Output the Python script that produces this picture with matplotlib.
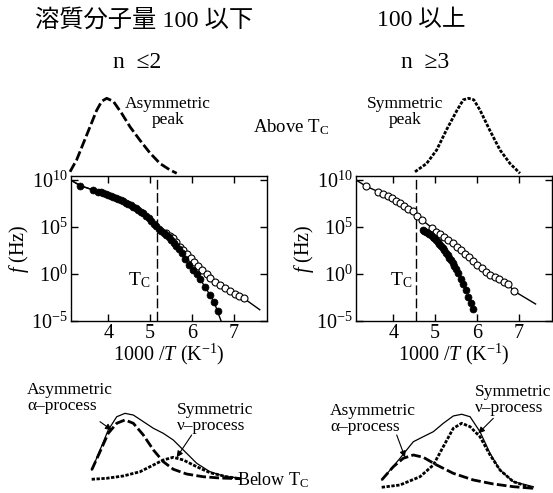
import matplotlib
matplotlib.use('Agg')
import matplotlib.pyplot as plt
from matplotlib.ticker import NullLocator, FixedLocator

plt.rcParams['font.family'] = ['Liberation Serif', 'DejaVu Serif', 'Noto Sans CJK JP']
plt.rcParams['mathtext.fontset'] = 'custom'
plt.rcParams['mathtext.rm'] = 'Liberation Serif'
plt.rcParams['mathtext.it'] = 'Liberation Serif:italic'
plt.rcParams['mathtext.bf'] = 'Liberation Serif:bold'

# ---------------- data (log10 f versus 1000/T) ----------------
# left panel (n <= 2)
left_filled_x = [3.33, 3.64, 3.76, 3.82, 3.88, 3.94, 4.00, 4.06, 4.12, 4.18, 4.24, 4.30,
                 4.36, 4.42, 4.48, 4.54, 4.60, 4.66, 4.72, 4.78, 4.84, 4.90, 4.96, 5.02,
                 5.08, 5.14, 5.20, 5.26, 5.32, 5.38, 5.44, 5.50, 5.56, 5.62, 5.68, 5.75,
                 5.83, 5.93, 6.03, 6.12, 6.20, 6.31, 6.43, 6.53, 6.63]
left_filled_y = [9.36, 8.94, 8.76, 8.68, 8.59, 8.50, 8.41, 8.31, 8.22, 8.12, 8.01, 7.88,
                 7.74, 7.60, 7.45, 7.30, 7.15, 6.98, 6.81, 6.64, 6.46, 6.21, 5.94, 5.66,
                 5.37, 5.08, 4.83, 4.61, 4.40, 4.18, 3.93, 3.64, 3.33, 3.00, 2.64, 2.20,
                 1.65, 0.95, 0.45, -0.05, -0.55, -1.35, -2.23, -3.00, -3.94]
left_open_x = [5.38, 5.47, 5.54, 5.62, 5.71, 5.79, 5.89, 5.97, 6.05, 6.15, 6.25, 6.35,
               6.44, 6.55, 6.67, 6.79, 6.90, 7.02, 7.13, 7.24]
left_open_y = [4.33, 4.07, 3.80, 3.37, 2.90, 2.55, 2.10, 1.73, 1.31, 0.88, 0.43, -0.03,
               -0.46, -0.82, -1.17, -1.52, -1.81, -2.16, -2.31, -2.59]
left_fitA_x = [3.10, 3.33, 3.64, 4.00, 4.30, 4.60, 4.84, 5.02, 5.20, 5.38, 5.56, 5.75,
               5.93, 6.12, 6.31, 6.53, 6.72]
left_fitA_y = [10.0, 9.40, 8.94, 8.41, 7.88, 7.15, 6.46, 5.66, 4.83, 4.18, 3.33, 2.20,
               0.95, -0.05, -1.35, -3.00, -5.30]
left_fitB_x = [3.10, 3.33, 3.64, 4.00, 4.30, 4.60, 4.84, 5.02, 5.20, 5.38, 5.54, 5.71,
               5.89, 6.05, 6.25, 6.44, 6.67, 6.90, 7.13, 7.24, 7.62]
left_fitB_y = [10.0, 9.40, 8.94, 8.41, 7.88, 7.15, 6.46, 5.66, 4.83, 4.33, 3.80, 2.90,
               2.10, 1.31, 0.43, -0.46, -1.17, -1.81, -2.31, -2.59, -3.80]
left_Tc = 5.155

# right panel (n >= 3)
right_open_x = [3.34, 3.64, 3.76, 3.87, 3.96, 4.06, 4.16, 4.26, 4.36, 4.46, 4.57, 4.68,
                4.92, 5.02, 5.11, 5.21, 5.31, 5.42, 5.51, 5.61, 5.71, 5.81, 5.91, 6.00,
                6.11, 6.21, 6.32, 6.43, 6.53, 6.64, 6.74, 6.88]
right_open_y = [9.36, 8.76, 8.51, 8.30, 8.05, 7.80, 7.52, 7.23, 6.97, 6.66, 6.22, 5.78,
                4.92, 4.52, 4.22, 3.92, 3.60, 3.25, 2.91, 2.55, 2.15, 1.76, 1.35, 0.98,
                0.60, 0.26, -0.08, -0.35, -0.58, -0.82, -1.06, -1.80]
right_filled_x = [4.70, 4.74, 4.78, 4.82, 4.86, 4.90, 4.94, 4.98, 5.02, 5.06, 5.10, 5.14,
                  5.18, 5.22, 5.26, 5.30, 5.34, 5.38, 5.42, 5.46, 5.50, 5.55, 5.61, 5.67,
                  5.73, 5.79, 5.85, 5.91]
right_filled_y = [4.70, 4.60, 4.49, 4.38, 4.26, 4.12, 3.97, 3.80, 3.62, 3.42, 3.21, 2.99,
                  2.76, 2.52, 2.27, 2.01, 1.74, 1.46, 1.17, 0.87, 0.55, 0.10, -0.50, -1.10,
                  -1.75, -2.40, -3.05, -3.72]
right_fit_x = [3.11] + right_open_x + [7.40]
right_fit_y = [10.0] + right_open_y + [-3.19]
right_Tc = 4.54

x_ticks = [4, 5, 6, 7]
y_ticks = [1e-5, 1e0, 1e5, 1e10]

# schematic loss peaks (normalised log-frequency, normalised loss)
above_asym_x = [0.0, 0.0625, 0.125, 0.1875, 0.25, 0.297, 0.344, 0.406, 0.484, 0.5625,
                0.656, 0.75, 0.844, 0.9375, 1.0]
above_asym_y = [0.02, 0.18, 0.40, 0.62, 0.84, 0.96, 1.0, 0.96, 0.80, 0.62,
                0.44, 0.27, 0.13, 0.044, 0.0]
above_sym_x = [0.0, 0.11, 0.206, 0.30, 0.40, 0.46, 0.51, 0.56, 0.62, 0.71, 0.81, 0.905, 1.0]
above_sym_y = [0.02, 0.13, 0.31, 0.58, 0.84, 0.98, 1.0, 0.98, 0.84, 0.58, 0.31, 0.13, 0.0]

bl_sum_x = [0.011, 0.066, 0.120, 0.176, 0.230, 0.285, 0.351, 0.417, 0.482, 0.548, 0.614,
            0.702, 0.789, 0.877, 0.987]
bl_sum_y = [0.235, 0.471, 0.706, 0.862, 0.902, 0.882, 0.804, 0.726, 0.667, 0.588, 0.471,
            0.314, 0.215, 0.165, 0.138]
bl_alpha_x = [0.011, 0.066, 0.120, 0.176, 0.230, 0.285, 0.351, 0.417, 0.482, 0.548, 0.636,
              0.745, 0.855, 0.987]
bl_alpha_y = [0.235, 0.451, 0.667, 0.785, 0.824, 0.785, 0.647, 0.471, 0.333, 0.244, 0.188,
              0.156, 0.141, 0.133]
bl_nu_x = [0.011, 0.110, 0.219, 0.329, 0.417, 0.482, 0.548, 0.614, 0.702, 0.789, 0.899, 0.987]
bl_nu_y = [0.126, 0.138, 0.165, 0.215, 0.294, 0.353, 0.385, 0.353, 0.274, 0.204, 0.156, 0.133]

br_sum_x = [0.011, 0.065, 0.129, 0.172, 0.215, 0.279, 0.344, 0.408, 0.473, 0.527, 0.581,
            0.645, 0.710, 0.774, 0.860, 0.989]
br_sum_y = [0.118, 0.235, 0.373, 0.471, 0.568, 0.627, 0.686, 0.784, 0.871, 0.891, 0.862,
            0.686, 0.432, 0.235, 0.098, 0.039]
br_alpha_x = [0.011, 0.086, 0.150, 0.215, 0.279, 0.366, 0.473, 0.602, 0.731, 0.860, 0.989]
br_alpha_y = [0.118, 0.274, 0.373, 0.412, 0.385, 0.294, 0.196, 0.118, 0.071, 0.039, 0.020]
br_nu_x = [0.011, 0.129, 0.258, 0.344, 0.408, 0.473, 0.527, 0.581, 0.645, 0.710, 0.774,
           0.860, 0.989]
br_nu_y = [0.032, 0.059, 0.156, 0.294, 0.509, 0.726, 0.785, 0.745, 0.627, 0.412, 0.235,
           0.098, 0.020]

# ---------------- figure ----------------
W, H = 553, 493
fig = plt.figure(figsize=(W / 100, H / 100), dpi=100)


def rect(x0, y0, x1, y1):
    return [x0 / W, 1 - y1 / H, (x1 - x0) / W, (y1 - y0) / H]


def fp(x, y):
    return (x / W, 1 - y / H)


TICKFS = 14.5


def main_panel(r, fx, fy, ox, oy, fits, Tc, tclabel_x):
    ax = fig.add_axes(r)
    ax.set_yscale('log')
    for (lx, ly) in fits:
        ax.plot(lx, [10 ** v for v in ly], color='k', lw=1.0, zorder=2)
    ax.plot(ox, [10 ** v for v in oy], 'o', ms=5, mfc='white', mec='k', mew=0.8, zorder=3)
    ax.plot(fx, [10 ** v for v in fy], 'o', ms=5, mfc='k', mec='k', mew=0.5, zorder=4)
    ax.axvline(Tc, color='k', lw=1.0, dashes=(7, 2.5), zorder=1)
    ax.text(tclabel_x, 10 ** -0.65, r'T$_\mathrm{C}$', fontsize=14, ha='right', va='center')
    ax.set_xlim(3.1, 7.8)
    ax.set_ylim(1e-5, 10 ** 10.43)
    ax.xaxis.set_major_locator(FixedLocator(x_ticks))
    ax.yaxis.set_major_locator(FixedLocator(y_ticks))
    ax.xaxis.set_minor_locator(NullLocator())
    ax.yaxis.set_minor_locator(NullLocator())
    ax.tick_params(direction='in', top=True, right=True, length=5, width=1.0,
                   labelsize=TICKFS, pad=2)
    for s in ax.spines.values():
        s.set_linewidth(1.0)
    ax.set_xlabel(r'1000 /$T$ (K$^{-1}$)', fontsize=TICKFS, labelpad=-1)
    ax.set_ylabel(r'$f$ (Hz)', fontsize=TICKFS, labelpad=0)
    return ax


main_panel(rect(70.7, 176, 267.3, 321), left_filled_x, left_filled_y, left_open_x,
           left_open_y, [(left_fitA_x, left_fitA_y), (left_fitB_x, left_fitB_y)],
           left_Tc, 5.0)
main_panel(rect(355.7, 176, 552.3, 321), right_filled_x, right_filled_y, right_open_x,
           right_open_y, [(right_fit_x, right_fit_y)], right_Tc, 4.45)

LONG = (3.5, 1.2)
SHORT = (1.2, 0.55)


def schematic(r, curves):
    ax = fig.add_axes(r)
    ax.set_xlim(0, 1)
    ax.set_ylim(0, 1)
    ax.axis('off')
    for (cx, cy, style) in curves:
        if style == 'sum':
            ax.plot(cx, cy, color='k', lw=0.9, clip_on=False)
        elif style == 'long':
            ax.plot(cx, cy, color='k', lw=2.0, dashes=LONG, clip_on=False)
        else:
            ax.plot(cx, cy, color='k', lw=2.0, dashes=SHORT, clip_on=False)
    return ax


schematic(rect(70, 98.3, 176.7, 173.3), [(above_asym_x, above_asym_y, 'long')])
schematic(rect(415, 98.3, 520, 173.3), [(above_sym_x, above_sym_y, 'short')])
schematic(rect(90, 405, 242, 490), [(bl_sum_x, bl_sum_y, 'sum'),
                                     (bl_alpha_x, bl_alpha_y, 'long'),
                                     (bl_nu_x, bl_nu_y, 'short')])
schematic(rect(380, 405, 535, 490), [(br_sum_x, br_sum_y, 'sum'),
                                      (br_alpha_x, br_alpha_y, 'long'),
                                      (br_nu_x, br_nu_y, 'short')])

# ---------------- texts ----------------
fig.text(*fp(144.5, 20), '溶質分子量 100 以下', fontsize=17.5, ha='center', va='center')
fig.text(*fp(421, 20), '100 以上', fontsize=17, ha='center', va='center')
fig.text(*fp(136.7, 62), 'n  ≤2', fontsize=17, ha='center', va='center')
fig.text(*fp(425, 62), 'n  ≥3', fontsize=17, ha='center', va='center')

LF = 12.5
fig.text(*fp(168, 112), 'Asymmetric\npeak', fontsize=LF, ha='center', va='center',
         linespacing=0.95)
fig.text(*fp(405, 112), 'Symmetric\npeak', fontsize=LF, ha='center', va='center',
         linespacing=0.95)
fig.text(*fp(291, 127), r'Above T$_\mathrm{C}$', fontsize=13.5, ha='center', va='center')
fig.text(*fp(273, 480), r'Below T$_\mathrm{C}$', fontsize=13, ha='center', va='center')

fig.text(*fp(27, 398), 'Asymmetric\nα–process', fontsize=LF, ha='left', va='center',
         linespacing=0.95)
fig.text(*fp(177, 418), 'Symmetric\nν–process', fontsize=LF, ha='left', va='center',
         linespacing=0.95)
fig.text(*fp(330, 419), 'Asymmetric\nα–process', fontsize=LF, ha='left', va='center',
         linespacing=0.95)
fig.text(*fp(475, 400), 'Symmetric\nν–process', fontsize=LF, ha='left', va='center',
         linespacing=0.95)

arrow_props = dict(arrowstyle='-|>', lw=0.8, color='k', mutation_scale=9,
                   shrinkA=0, shrinkB=0)
for tail, head in [((100, 421.7), (111.7, 430)),
                   ((191.7, 435), (176.7, 457.3)),
                   ((396.7, 435), (405, 457.3)),
                   ((493.3, 418.3), (478.3, 433.3))]:
    fig.add_artist(matplotlib.patches.FancyArrowPatch(
        fp(*tail), fp(*head), transform=fig.transFigure, **arrow_props))

fig.savefig('out.png', dpi=100)
